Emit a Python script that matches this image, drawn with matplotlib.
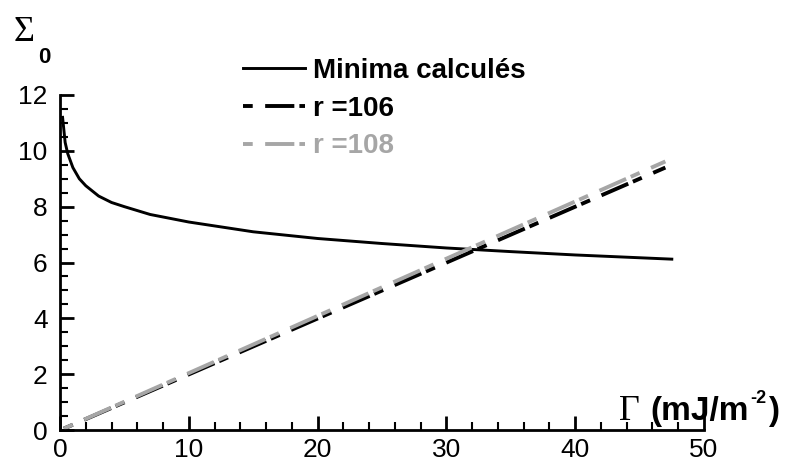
import matplotlib.pyplot as plt
import numpy as np

# donnees
gamma_min = [0.2, 0.4, 0.6, 1.0, 1.5, 2.0, 3.0, 4.0, 5.0, 7.0, 10.0, 15.0, 20.0, 25.0, 30.0, 35.0, 40.0, 45.0, 47.5]
sigma_min = [11.2, 10.3, 9.9, 9.4, 9.0, 8.75, 8.38, 8.15, 8.0, 7.72, 7.45, 7.1, 6.86, 6.68, 6.52, 6.39, 6.27, 6.17, 6.12]

gamma_r106 = [0.3, 47.0]
sigma_r106 = [0.05, 9.4]
gamma_r108 = [0.3, 47.0]
sigma_r108 = [0.05, 9.62]

W, H = 790, 470
fig = plt.figure(figsize=(W / 100, H / 100), dpi=100)
ax = fig.add_axes([60 / W, 40 / H, 644 / W, 335 / H])

# motif tiret court / tiret long, qui commence par le tiret court
dash = (8.8, (7.5, 1.3, 2.5, 3.2))
ax.plot(gamma_min, sigma_min, color="black", lw=2.1, label="Minima calculés")
ax.plot(gamma_r106, sigma_r106, color="black", lw=2.8, ls=dash, label="r =106")
ax.plot(gamma_r108, sigma_r108, color="#a6a6a6", lw=2.8, ls=dash, label="r =108")

ax.set_xlim(0, 50)
ax.set_ylim(0, 12)
ax.set_xticks(np.arange(0, 51, 10))
ax.set_yticks(np.arange(0, 13, 2))
ax.set_xticks(np.arange(0, 51, 2), minor=True)
ax.set_yticks(np.arange(0, 12.1, 0.5), minor=True)
ax.tick_params(which="major", direction="in", length=10, width=2, labelsize=19)
ax.tick_params(axis="x", which="major", pad=6)
ax.tick_params(axis="y", which="major", pad=9)
ax.tick_params(which="minor", direction="in", length=6, width=1.5)
for s in ["top", "right"]:
    ax.spines[s].set_visible(False)
for s in ["left", "bottom"]:
    ax.spines[s].set_linewidth(2)
for lab in ax.get_xticklabels() + ax.get_yticklabels():
    lab.set_fontfamily("Liberation Sans")

# axe y : Sigma_0
fig.text(14 / W, (H - 41) / H, "Σ", fontsize=26, family="Liberation Serif", va="baseline")
fig.text(38 / W, (H - 63) / H, "0", fontsize=16, fontweight="bold", family="Liberation Sans",
         va="baseline")

# axe x : Gamma (mJ/m-2)
fig.text(619 / W, (H - 420) / H, "Γ", fontsize=26, family="Liberation Serif", va="baseline")
fig.text(650 / W, (H - 420) / H, "(mJ/m", fontsize=24, fontweight="bold",
         family="Liberation Sans", va="baseline")
fig.text(750 / W, (H - 403) / H, "-2", fontsize=13, fontweight="bold",
         family="Liberation Sans", va="baseline")
fig.text(768 / W, (H - 420) / H, ")", fontsize=24, fontweight="bold",
         family="Liberation Sans", va="baseline")

leg = ax.legend(loc="upper left", bbox_to_anchor=(0.284, 1.11), frameon=False,
                borderpad=0, borderaxespad=0,
                prop={"family": "Liberation Sans", "weight": "bold", "size": 20},
                handlelength=2.25, handletextpad=0.26, labelspacing=0.42)
leg.get_texts()[2].set_color("#a6a6a6")

plt.savefig("out.png")
